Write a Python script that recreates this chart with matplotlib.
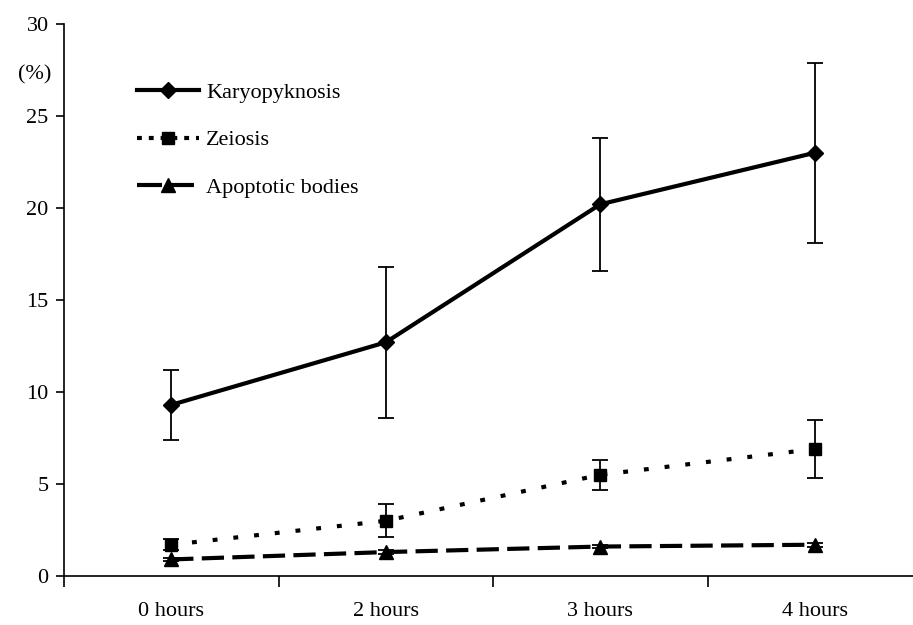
import numpy as np
import matplotlib
matplotlib.use("Agg")
import matplotlib.pyplot as plt
from matplotlib.lines import Line2D

# values
categories = ["0 hours", "2 hours", "3 hours", "4 hours"]
karyo = [9.3, 12.7, 20.2, 23.0]
karyo_err = [1.9, 4.1, 3.6, 4.9]
zeiosis = [1.7, 3.0, 5.5, 6.9]
zeiosis_err = [0.3, 0.9, 0.8, 1.6]
apopt = [0.9, 1.3, 1.6, 1.7]
apopt_err = [0.1, 0.1, 0.1, 0.1]

plt.rcParams['font.family'] = ['Liberation Serif', 'DejaVu Serif']
plt.rcParams['lines.scale_dashes'] = False

fig = plt.figure(figsize=(9.13, 6.25), dpi=100)
# axis line runs off the right edge in the original
ax = fig.add_axes([64 / 913, 1 - 576 / 625, 858 / 913, 552 / 625])

x = np.arange(len(categories))
eb = dict(ecolor='black', elinewidth=1.3, capsize=6, capthick=1.3)

ax.errorbar(x, karyo, yerr=karyo_err, color='black', lw=3, marker='D', ms=8, **eb)
l2 = ax.errorbar(x, zeiosis, yerr=zeiosis_err, color='black', lw=3, marker='s', ms=9, **eb)
l2[0].set_dashes((3.5, 11.5))
l3 = ax.errorbar(x, apopt, yerr=apopt_err, color='black', lw=3, marker='^', ms=10, **eb)
l3[0].set_dashes((16, 6))

ax.set_xlim(-0.5, 3.5)
ax.set_ylim(0, 30)
ax.set_yticks([0, 5, 10, 15, 20, 25, 30])
ax.set_xticks(x)
ax.set_xticklabels(categories)
ax.set_xticks(np.arange(-0.5, 4, 1), minor=True)
ax.tick_params(axis='x', which='major', length=0, pad=19, labelsize=16)
ax.tick_params(axis='x', which='minor', length=8, width=1.2, direction='out')
ax.tick_params(axis='y', length=6, width=1.2, direction='out', labelsize=16, pad=5)

for s in ['top', 'right']:
    ax.spines[s].set_visible(False)
ax.spines['left'].set_linewidth(1.2)
ax.spines['bottom'].set_linewidth(1.2)

fig.text(18 / 913, 1 - 75 / 625, "(%)", fontsize=16, va='center', ha='left')

handles = [
    Line2D([], [], color='black', lw=3, marker='D', ms=8),
    Line2D([], [], color='black', lw=3, marker='s', ms=9, dashes=(3.5, 5)),
    Line2D([], [], color='black', lw=3, marker='^', ms=10, dashes=(18, 5)),
]
ax.legend(handles, ["Karyopyknosis", "Zeiosis", "Apoptotic bodies"],
          loc='upper left', bbox_to_anchor=(0.062, 0.93), frameon=False,
          fontsize=16, handlelength=2.8, labelspacing=1.2, handletextpad=0.3)

fig.savefig("out.png", dpi=100)
